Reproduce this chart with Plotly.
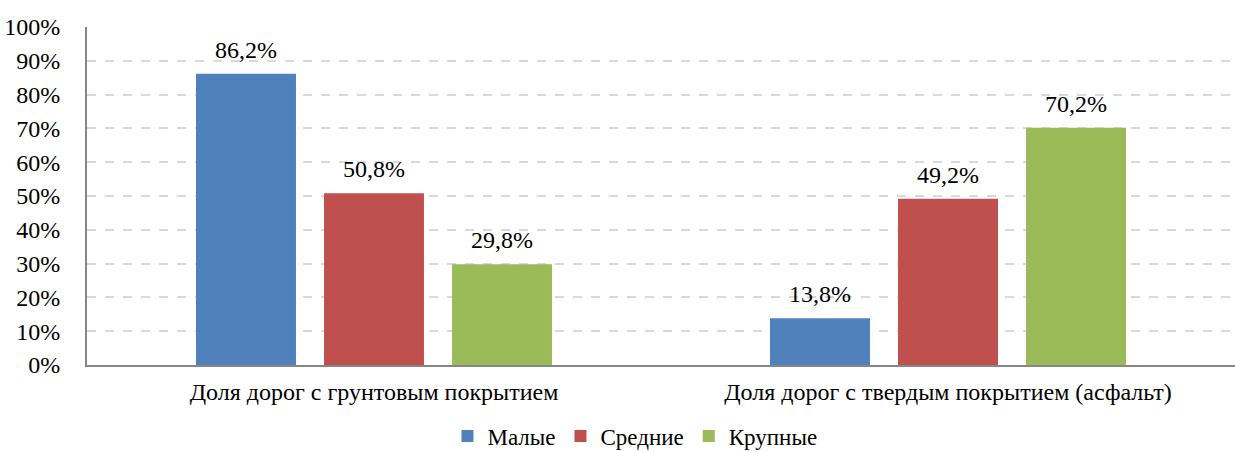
import plotly.graph_objects as go

categories = ["Доля дорог с грунтовым покрытием", "Доля дорог с твердым покрытием (асфальт)"]
series_names = ["Малые", "Средние", "Крупные"]
malye = [86.2, 13.8]
srednie = [50.8, 49.2]
krupnye = [29.8, 70.2]
colors = ["#4F81BD", "#C0504D", "#9BBB59"]
tick_vals = [0, 10, 20, 30, 40, 50, 60, 70, 80, 90, 100]

font_family = "Liberation Serif"

fig = go.Figure()
all_series = [malye, srednie, krupnye]
for name, vals, col in zip(series_names, all_series, colors):
    fig.add_trace(go.Bar(x=categories, y=vals, name=name, marker_color=col,
                         marker_line_width=0))

offsets = [-128, 0, 128]
for vals, off in zip(all_series, offsets):
    for cat, v in zip(categories, vals):
        fig.add_annotation(x=cat, y=v, text=f"{v:.1f}%".replace(".", ","),
                           showarrow=False, yanchor="bottom", xshift=off, yshift=9,
                           font=dict(family=font_family, size=24, color="black"))

fig.update_layout(
    width=1235, height=452,
    margin=dict(l=87, r=0, t=27, b=87, autoexpand=False),
    plot_bgcolor="white", paper_bgcolor="white",
    barmode="group", bargap=0.331, bargroupgap=0.219,
    font=dict(family=font_family, size=24, color="black"),
    showlegend=True,
    legend=dict(orientation="h", x=0.314, xanchor="left", y=-0.21, yanchor="middle",
                font=dict(family=font_family, size=23, color="black"),
                itemwidth=30, traceorder="normal"),
)
fig.update_yaxes(range=[0, 100], tickvals=tick_vals, ticktext=[f"{t}%" for t in tick_vals],
                 showgrid=True, gridcolor="#D9D9D9", gridwidth=2, griddash="dash",
                 showline=True, linecolor="#868686", linewidth=2, zeroline=False,
                 ticks="", ticklen=0, ticklabelstandoff=20,
                 tickfont=dict(family=font_family, size=24), fixedrange=True)
fig.update_xaxes(showline=True, linecolor="#868686", linewidth=2, ticks="",
                 ticklabelstandoff=4,
                 tickfont=dict(family=font_family, size=24), showgrid=False)

fig.write_html("out.html", config={"displayModeBar": False},
               post_script="document.body.style.margin='0';document.body.style.overflow='hidden';")
